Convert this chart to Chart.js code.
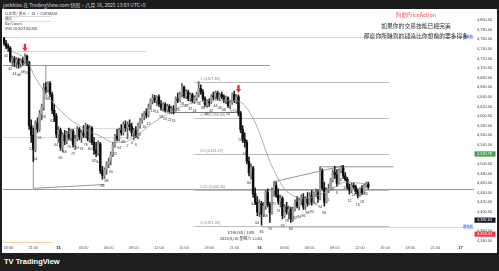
<!DOCTYPE html>
<html><head><meta charset="utf-8">
<script src="https://cdn.jsdelivr.net/npm/chart.js@4.4.1/dist/chart.umd.min.js"></script>
<style>
html,body{margin:0;padding:0;background:#fff;width:499px;height:271px;overflow:hidden;position:relative;font-family:"Liberation Sans",Arial,sans-serif;}
.abs{position:absolute;white-space:nowrap;}
#top{left:0;top:0;width:499px;height:9px;background:#1c1c1c;color:#d8d8d8;font-size:5px;line-height:9px;padding-left:3px;box-sizing:border-box;font-family:"Noto Sans CJK TC","Liberation Sans",sans-serif;}
#bot{left:0;top:253px;width:499px;height:18px;background:#1e1e1e;}
#logo{left:4px;top:257px;color:#fff;font-size:7.5px;line-height:10px;font-weight:bold;font-family:"Liberation Sans",Arial,sans-serif;}
#lb{left:0;top:9px;width:2px;height:244px;background:#1e1e1e}
#rb{left:497px;top:9px;width:2px;height:244px;background:#1e1e1e}
#wrap{position:absolute;left:2px;top:9px;width:495px;height:244px;}
.leg{left:5px;font-size:3.6px;line-height:5px;color:#333;width:46px;border-bottom:0.5px solid #d8d8d8;font-family:"Noto Sans CJK TC","Liberation Sans",sans-serif;}
.q{left:316px;width:200px;text-align:center;font-family:"Noto Sans CJK TC",sans-serif;line-height:7px;}
.stamp{left:211px;width:60px;text-align:center;font-size:4px;line-height:5px;color:#333;font-family:"Noto Sans CJK TC","Liberation Sans",sans-serif;}
</style></head>
<body>
<div id="wrap"><canvas id="c" width="495" height="244"></canvas></div>
<div class="abs" id="top">jackklos 在 TradingView.com 快照，八月 16, 2025 13:03 UTC+8</div>
<div class="abs" id="lb"></div><div class="abs" id="rb"></div>
<div class="abs" id="bot"></div>
<div class="abs" id="logo">TV&nbsp;TradingView</div>
<div class="abs leg" style="top:10.5px">以太幣 / 美元 · 15 · COINBASE</div>
<div class="abs leg" style="top:15.5px">成交</div>
<div class="abs leg" style="top:20.5px;border:none">Bar Count</div>
<div class="abs leg" style="top:25.5px;border:none">EMA 20/50/100/200</div>
<div class="abs q" style="top:11.5px;font-size:5.5px;color:#f2545b">阿勳PriceAction</div>
<div class="abs q" style="top:21.5px;font-size:5.8px;color:#333">如果你的交易技能已經完美</div>
<div class="abs q" style="top:31.5px;font-size:5.8px;color:#333">那麼你所賺到的錢遠比你想像的要多得多</div>
<div class="abs stamp" style="top:229.5px">ETHUSD | 15m</div>
<div class="abs stamp" style="top:235.5px">2025/8/16 星期六 13:03</div>
<script>
// ---- data (ETHUSD 15m, from 8/14 17:30 to 8/16 13:00) ----
const opens = [4762,4752,4745,4742,4716,4720,4712,4718,4708,4716,4712,4725,4712,4580,4560,4530,4585,4572,4605,4618,
4660,4655,4668,4645,4612,4600,4562,4570,4535,4560,4548,4562,4555,4568,4540,4552,4572,4556,4565,4560,
4578,4552,4575,4545,4528,4522,4542,4486,4476,4488,4500,4505,4520,4540,4558,4552,4570,4565,4582,4575,
4582,4578,4565,4570,4558,4580,4590,4600,4606,4602,4620,4632,4638,4633,4640,4625,4618,4624,4612,4620,
4610,4615,4612,4636,4632,4645,4660,4642,4650,4636,4644,4632,4638,4646,4658,4650,4636,4624,4630,4628,
4642,4640,4648,4638,4645,4640,4632,4638,4622,4628,4645,4632,4640,4606,4572,4552,4545,4505,4482,4492,
4438,4420,4400,4418,4395,4412,4440,4415,4398,4445,4455,4435,4422,4428,4392,4410,4400,4405,4385,4405,
4420,4412,4424,4430,4410,4428,4418,4435,4420,4438,4440,4428,4485,4450,4420,4445,4448,4465,4482,4478,
4460,4486,4492,4475,4468,4452,4445,4455,4452,4442,4435,4448,4440,4455,4458];
const highs = [4764,4758,4750,4745,4725,4724,4722,4721,4720,4722,4730,4727,4714,4592,4575,4590,4596,4612,4625,4668,
4670,4672,4672,4650,4625,4605,4578,4575,4565,4570,4568,4575,4572,4572,4560,4578,4576,4570,4580,4585,
4582,4580,4578,4555,4545,4548,4545,4495,4492,4505,4512,4525,4545,4562,4572,4575,4582,4588,4590,4588,
4592,4585,4575,4578,4585,4595,4605,4610,4615,4625,4636,4645,4643,4642,4644,4632,4628,4628,4625,4624,
4620,4622,4640,4648,4650,4668,4663,4655,4654,4648,4648,4642,4650,4672,4665,4655,4640,4634,4636,4645,
4650,4652,4652,4648,4650,4644,4642,4640,4632,4648,4652,4645,4644,4610,4580,4565,4550,4515,4500,4495,
4450,4432,4425,4422,4420,4445,4448,4420,4450,4463,4462,4448,4435,4432,4415,4420,4412,4410,4410,4425,
4432,4428,4436,4438,4432,4440,4440,4445,4442,4448,4446,4494,4490,4462,4450,4458,4470,4488,4495,4488,
4490,4496,4497,4482,4472,4458,4460,4460,4456,4448,4450,4455,4458,4462,4462];
const lows = [4748,4740,4735,4712,4704,4703,4700,4700,4702,4706,4708,4705,4572,4545,4505,4525,4566,4568,4592,4612,
4648,4650,4640,4605,4588,4555,4545,4528,4525,4540,4542,4550,4548,4535,4530,4548,4550,4545,4555,4555,
4548,4545,4540,4520,4515,4518,4480,4468,4470,4478,4492,4498,4515,4535,4548,4548,4560,4560,4568,4552,
4570,4558,4550,4555,4552,4575,4585,4592,4596,4598,4615,4625,4628,4622,4620,4612,4610,4608,4608,4606,
4605,4604,4610,4628,4630,4640,4638,4636,4632,4630,4628,4626,4632,4640,4645,4632,4620,4618,4620,4625,
4634,4635,4634,4632,4636,4628,4626,4618,4615,4624,4628,4626,4600,4565,4545,4535,4500,4475,4468,4430,
4415,4392,4390,4372,4390,4405,4410,4378,4395,4432,4430,4416,4410,4385,4388,4395,4385,4378,4380,4402,
4408,4404,4415,4405,4405,4412,4415,4414,4418,4432,4420,4425,4445,4412,4418,4440,4445,4462,4470,4453,
4458,4482,4470,4465,4448,4437,4440,4449,4438,4429,4432,4436,4438,4451,4448];
const closes = [4752,4745,4742,4716,4720,4712,4718,4708,4716,4712,4725,4712,4580,4560,4530,4585,4572,4605,4618,4660,
4655,4668,4645,4612,4600,4562,4570,4535,4560,4548,4562,4555,4568,4540,4552,4572,4556,4565,4560,4578,
4552,4575,4545,4528,4522,4542,4486,4476,4488,4500,4505,4520,4540,4558,4552,4570,4565,4582,4575,4582,
4578,4565,4570,4558,4580,4590,4600,4606,4602,4620,4632,4638,4633,4640,4625,4618,4624,4612,4620,4610,
4615,4612,4636,4632,4645,4660,4642,4650,4636,4644,4632,4638,4646,4658,4650,4636,4624,4630,4628,4642,
4640,4648,4638,4645,4640,4632,4638,4622,4628,4645,4632,4640,4606,4572,4552,4545,4505,4482,4492,4438,
4420,4400,4418,4395,4412,4440,4415,4398,4445,4455,4435,4422,4428,4392,4410,4400,4405,4385,4405,4420,
4412,4424,4430,4410,4428,4418,4435,4420,4438,4440,4428,4485,4450,4420,4445,4448,4465,4482,4478,4460,
4486,4492,4475,4468,4452,4445,4455,4452,4442,4435,4448,4440,4455,4458,4452];
// EMA read at a few bars (bar index, value)
const emaIdx = [4,11,15,23,31,39,47,52,57,61,66,71,77,82,90,101,109,114,119,122,127,134,139,144,151,158,163,174];
const emaVal = [4735,4715,4680,4630,4595,4572,4556,4545,4545,4552,4568,4585,4602,4615,4627,4632,4632,4626,4595,4565,4505,4448,4432,4428,4436,4452,4462,4458];
// price axis labels
const yMin = 4332.85, yMax = 4812.24, yStep = 20;
const hiddenTicks = [4520, 4380];
const axisTags = [[4520.78,'#43a047'],[4382.63,'#131722'],[4353.44,'#f23645']];
// fibonacci retracement
const fibRatios = ['1','0.75','0.5','0.25','0'];
const fibPrices = [4671.80,4596.68,4521.57,4446.45,4371.33];
const fibSpan = [91, 184];
// drawn lines: [fromBar, toBar (null = right edge), price, tone]
const hLines = [[-1,null,4765,'light'],[-1,68,4735,'light'],[-1,127,4706,'mid'],[-1,61,4557,'light'],
  [29,66,4575,'light'],[-1,null,4447,'mid'],[79,112,4608,'dark'],[123,null,4369,'light'],[-1,23,4337,'orange']];
// segments: [bar1, price1, bar2, price2]
const segs = [[20,4706,20,4635],[14,4449,48,4457],[14,4449,14,4580],[129,4463,162,4496],[151,4494,186,4494],[151,4494,151,4447]];
const signalBars = [10, 112];
// time slots of the x axis (15 min each, 8/14 17:30 .. 8/17 01:30)
const slotCount = 225, startDay = 14, startMinute = 17*60+30;

const slots = [];
for (let k = 0; k < slotCount; k++) { const t = startMinute + k*15; slots.push({d: startDay + Math.floor(t/1440), h: Math.floor((t%1440)/60), m: t%60}); }
const pad = n => String(n).padStart(2,'0');
const categories = slots.map(s => `8/${s.d} ${pad(s.h)}:${pad(s.m)}`);
const isDay = i => slots[i] && slots[i].h===0 && slots[i].m===0;
const tickText = i => { const s = slots[i]; if (!s || s.m!==0 || s.h%3) return ''; return s.h===0 ? String(s.d) : pad(s.h)+':00'; };
const barCount = i => { const s = slots[i]; const t = ((s.h*60+s.m) - 480 + 1440) % 1440; return t/15 + 1; };

const n = opens.length;
const bodies = [], wicks = [], bodyCol = [], wickCol = [];
for (let i = 0; i < n; i++) {
  bodies.push([opens[i], closes[i]]);
  wicks.push([lows[i], highs[i]]);
  const up = closes[i] >= opens[i];
  bodyCol.push(up ? '#9f9f9f' : '#0d0d0d');
  wickCol.push(up ? '#5e5e5e' : '#1a1a1a');
}
const ema = new Array(slotCount).fill(null);
emaIdx.forEach((k, j) => ema[k] = emaVal[j]);

const fmt = v => v.toLocaleString('en-US',{minimumFractionDigits:2, maximumFractionDigits:2});
const toneStyle = {light:['#cfcfcf',0.8], mid:['#9c9c9c',1], dark:['#5a5a5a',0.8], orange:['#ffcf9e',1]};

const overlay = {
  id: 'overlay',
  beforeDatasetsDraw(chart) {
    const {ctx, chartArea: a, scales: {x, y}} = chart;
    ctx.save();
    ctx.beginPath(); ctx.rect(a.left, a.top, a.right - a.left, a.bottom - a.top); ctx.clip();
    const X = i => i === null ? a.right : x.getPixelForValue(i);
    hLines.forEach(([f, t, p, tone]) => {
      const [c, w] = toneStyle[tone];
      ctx.strokeStyle = c; ctx.lineWidth = w;
      const yy = Math.round(y.getPixelForValue(p)) + 0.5;
      ctx.beginPath(); ctx.moveTo(f < 0 ? a.left : X(f), yy); ctx.lineTo(X(t), yy); ctx.stroke();
    });
    ctx.strokeStyle = '#7a7a7a'; ctx.lineWidth = 0.8;
    segs.forEach(([i1, p1, i2, p2]) => {
      ctx.beginPath(); ctx.moveTo(X(i1), y.getPixelForValue(p1)); ctx.lineTo(X(i2), y.getPixelForValue(p2)); ctx.stroke();
    });
    ctx.strokeStyle = '#ababab'; ctx.lineWidth = 0.8;
    fibPrices.forEach(p => {
      const yy = Math.round(y.getPixelForValue(p)) + 0.5;
      ctx.beginPath(); ctx.moveTo(X(fibSpan[0]), yy); ctx.lineTo(X(fibSpan[1]), yy); ctx.stroke();
    });
    ctx.restore();
  },
  afterDatasetsDraw(chart) {
    const {ctx, chartArea: a, scales: {x, y}} = chart;
    ctx.save();
    ctx.beginPath(); ctx.rect(a.left, a.top, a.right - a.left, a.bottom - a.top); ctx.clip();
    ctx.font = '3.6px "Liberation Sans", Arial'; ctx.fillStyle = '#808080'; ctx.textAlign = 'left'; ctx.textBaseline = 'bottom';
    fibPrices.forEach((p, j) => ctx.fillText(`${fibRatios[j]} (${fmt(p)})`, x.getPixelForValue(fibSpan[0]) + 6, y.getPixelForValue(p) - 0.5));
    ctx.font = '3.6px "Liberation Sans", Arial'; ctx.fillStyle = '#333'; ctx.textAlign = 'center'; ctx.textBaseline = 'middle';
    for (let i = 0; i < n; i++) { const c = barCount(i); if (c % 2 === 0) ctx.fillText(String(c), x.getPixelForValue(i), y.getPixelForValue(lows[i]) + 7); }
    ctx.fillStyle = '#e8313c';
    signalBars.forEach(i => {
      const cx = x.getPixelForValue(i), tip = y.getPixelForValue(highs[i]) - 2;
      ctx.beginPath();
      ctx.moveTo(cx - 1.2, tip - 8); ctx.lineTo(cx + 1.2, tip - 8); ctx.lineTo(cx + 1.2, tip - 4);
      ctx.lineTo(cx + 2.6, tip - 4); ctx.lineTo(cx, tip); ctx.lineTo(cx - 2.6, tip - 4); ctx.lineTo(cx - 1.2, tip - 4);
      ctx.closePath(); ctx.fill();
    });
    [[4765,'最高價'],[4369,'最低價']].forEach(([p, t]) => {
      const yy = y.getPixelForValue(p);
      ctx.fillStyle = '#dce8fb'; ctx.fillRect(a.right - 11, yy - 2.5, 10, 5);
      ctx.fillStyle = '#2962ff'; ctx.font = '3.2px "Noto Sans CJK TC"'; ctx.textAlign = 'center';
      ctx.fillText(t, a.right - 6, yy + 0.2);
    });
    ctx.restore();
  },
  afterDraw(chart) {
    const {ctx, chartArea: a, scales: {y}} = chart;
    ctx.save();
    ctx.font = '3.9px "Liberation Sans", Arial'; ctx.textAlign = 'left'; ctx.textBaseline = 'middle';
    axisTags.forEach(([p, c]) => {
      const yy = y.getPixelForValue(p);
      ctx.fillStyle = c; ctx.fillRect(a.right + 0.5, yy - 2.6, 21, 5.2);
      ctx.fillStyle = '#fff'; ctx.fillText(fmt(p), a.right + 3, yy + 0.2);
    });
    ctx.restore();
  }
};

new Chart(document.getElementById('c'), {
  type: 'bar',
  data: {
    labels: categories,
    datasets: [
      {type: 'line', data: ema, borderColor: '#8c8c8c', borderWidth: 0.7, pointRadius: 0, spanGaps: true, cubicInterpolationMode: 'monotone', order: 0},
      {data: bodies, backgroundColor: bodyCol, barThickness: 1.8, grouped: false, order: 1},
      {data: wicks, backgroundColor: wickCol, barThickness: 0.9, grouped: false, order: 2}
    ]
  },
  options: {
    responsive: false, animation: false, devicePixelRatio: 1,
    layout: {padding: 0},
    plugins: {legend: {display: false}, tooltip: {enabled: false}},
    scales: {
      x: {
        offset: true,
        grid: {display: false, drawTicks: false}, border: {display: false},
        ticks: {autoSkip: false, maxRotation: 0, minRotation: 0, padding: 2,
          callback: (v, i) => tickText(i),
          font: c => ({family: '"Liberation Sans", Arial', size: 3.9, weight: isDay(c.index) ? 'bold' : 'normal'}),
          color: c => isDay(c.index) ? '#111' : '#555'},
        afterFit(s) { s.height = 9; }
      },
      y: {
        position: 'right', min: yMin, max: yMax,
        grid: {display: false, drawTicks: false}, border: {display: false},
        ticks: {stepSize: yStep, includeBounds: false, padding: 3,
          callback: v => hiddenTicks.includes(v) ? '' : fmt(v),
          font: {family: '"Liberation Sans", Arial', size: 3.9}, color: '#444'},
        afterFit(s) { s.width = 23; }
      }
    }
  },
  plugins: [overlay]
});
</script>
</body></html>
